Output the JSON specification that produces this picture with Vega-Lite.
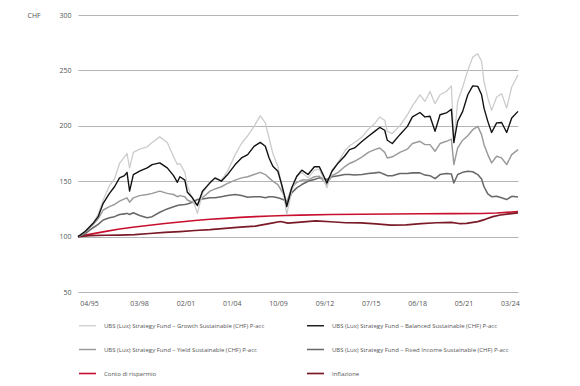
{
  "$schema": "https://vega.github.io/schema/vega-lite/v6.json",
  "width": 440,
  "height": 277,
  "autosize": {"type": "none"},
  "padding": {"left": 78, "top": 15, "right": 62, "bottom": 94},
  "background": "white",
  "config": {
    "view": {"stroke": null},
    "font": "Open Sans",
    "axis": {"labelFont": "Open Sans", "titleFont": "Open Sans", "labelColor": "#555555", "titleColor": "#555555"},
    "legend": {"labelFont": "Open Sans"}
  },
  "datasets": {
    "names": [
      {"k": "G", "series": "UBS (Lux) Strategy Fund – Growth Sustainable (CHF) P-acc"},
      {"k": "B", "series": "UBS (Lux) Strategy Fund – Balanced Sustainable (CHF) P-acc"},
      {"k": "Y", "series": "UBS (Lux) Strategy Fund – Yield Sustainable (CHF) P-acc"},
      {"k": "F", "series": "UBS (Lux) Strategy Fund – Fixed Income Sustainable (CHF) P-acc"},
      {"k": "R", "series": "Conto di risparmio"},
      {"k": "I", "series": "Inflazione"}
    ]
  },
  "data": {
    "values": [
      {"k":"R","date":"1995-04-01","value":100},{"k":"R","date":"1996-01-01","value":102},{"k":"R","date":"1997-01-01","value":104.5},{"k":"R","date":"1998-01-01","value":106.8},{"k":"R","date":"1999-01-01","value":108.6},{"k":"R","date":"2000-01-01","value":110.3},{"k":"R","date":"2001-01-01","value":111.8},{"k":"R","date":"2002-01-01","value":113.2},{"k":"R","date":"2003-01-01","value":114.5},{"k":"R","date":"2004-01-01","value":115.6},{"k":"R","date":"2005-01-01","value":116.5},{"k":"R","date":"2006-01-01","value":117.3},{"k":"R","date":"2007-01-01","value":118},{"k":"R","date":"2008-01-01","value":118.6},{"k":"R","date":"2009-01-01","value":119.1},{"k":"R","date":"2010-01-01","value":119.4},{"k":"R","date":"2012-01-01","value":119.9},{"k":"R","date":"2014-01-01","value":120.2},{"k":"R","date":"2016-01-01","value":120.4},{"k":"R","date":"2018-01-01","value":120.6},{"k":"R","date":"2020-01-01","value":120.7},{"k":"R","date":"2022-01-01","value":120.8},{"k":"R","date":"2023-01-01","value":121.3},{"k":"R","date":"2024-06-01","value":122.5},

      {"k":"I","date":"1995-04-01","value":100},{"k":"I","date":"1996-01-01","value":100.8},{"k":"I","date":"1997-01-01","value":101.2},{"k":"I","date":"1998-01-01","value":101.4},{"k":"I","date":"1999-01-01","value":101.8},{"k":"I","date":"2000-01-01","value":102.8},{"k":"I","date":"2001-01-01","value":103.8},{"k":"I","date":"2002-01-01","value":104.5},{"k":"I","date":"2003-01-01","value":105.5},{"k":"I","date":"2004-01-01","value":106.3},{"k":"I","date":"2005-01-01","value":107.5},{"k":"I","date":"2006-01-01","value":108.6},{"k":"I","date":"2007-01-01","value":109.5},{"k":"I","date":"2008-01-01","value":112},{"k":"I","date":"2008-09-01","value":113.6},{"k":"I","date":"2009-03-01","value":112.2},{"k":"I","date":"2010-01-01","value":113},{"k":"I","date":"2011-01-01","value":114.2},{"k":"I","date":"2012-01-01","value":113.4},{"k":"I","date":"2013-01-01","value":112.5},{"k":"I","date":"2014-01-01","value":112.3},{"k":"I","date":"2015-01-01","value":111.5},{"k":"I","date":"2016-01-01","value":110.3},{"k":"I","date":"2017-01-01","value":110.6},{"k":"I","date":"2018-01-01","value":111.7},{"k":"I","date":"2019-01-01","value":112.5},{"k":"I","date":"2020-01-01","value":112.8},{"k":"I","date":"2020-07-01","value":111.8},{"k":"I","date":"2021-01-01","value":112},{"k":"I","date":"2021-10-01","value":113.5},{"k":"I","date":"2022-04-01","value":115.6},{"k":"I","date":"2022-10-01","value":118},{"k":"I","date":"2023-04-01","value":119.5},{"k":"I","date":"2023-11-01","value":120.5},{"k":"I","date":"2024-06-01","value":121.4},

      {"k":"F","date":"1995-04-01","value":100},{"k":"F","date":"1995-09-01","value":102},{"k":"F","date":"1996-04-01","value":108},{"k":"F","date":"1996-08-01","value":111},{"k":"F","date":"1996-12-01","value":115},{"k":"F","date":"1997-05-01","value":117},{"k":"F","date":"1997-09-01","value":118},{"k":"F","date":"1998-01-01","value":120},{"k":"F","date":"1998-05-01","value":120.5},{"k":"F","date":"1998-07-01","value":121},{"k":"F","date":"1998-09-01","value":120},{"k":"F","date":"1998-12-01","value":121.5},{"k":"F","date":"1999-05-01","value":119},{"k":"F","date":"1999-11-01","value":117},{"k":"F","date":"2000-03-01","value":118},{"k":"F","date":"2000-09-01","value":122},{"k":"F","date":"2001-03-01","value":125},{"k":"F","date":"2001-08-01","value":127},{"k":"F","date":"2001-11-01","value":128},{"k":"F","date":"2002-01-01","value":128.5},{"k":"F","date":"2002-05-01","value":129},{"k":"F","date":"2002-07-01","value":129.5},{"k":"F","date":"2002-11-01","value":131},{"k":"F","date":"2003-03-01","value":133.5},{"k":"F","date":"2003-07-01","value":134},{"k":"F","date":"2004-01-01","value":135},{"k":"F","date":"2004-05-01","value":135},{"k":"F","date":"2004-10-01","value":136},{"k":"F","date":"2005-03-01","value":137},{"k":"F","date":"2005-09-01","value":138},{"k":"F","date":"2006-02-01","value":137},{"k":"F","date":"2006-07-01","value":135.5},{"k":"F","date":"2006-12-01","value":136},{"k":"F","date":"2007-05-01","value":136},{"k":"F","date":"2007-09-01","value":135},{"k":"F","date":"2007-12-01","value":136},{"k":"F","date":"2008-03-01","value":136},{"k":"F","date":"2008-07-01","value":135},{"k":"F","date":"2008-10-01","value":134},{"k":"F","date":"2008-12-01","value":133},{"k":"F","date":"2009-02-01","value":129.5},{"k":"F","date":"2009-06-01","value":139.5},{"k":"F","date":"2009-10-01","value":144},{"k":"F","date":"2010-02-01","value":147},{"k":"F","date":"2010-07-01","value":150},{"k":"F","date":"2010-12-01","value":151.5},{"k":"F","date":"2011-04-01","value":153},{"k":"F","date":"2011-10-01","value":151.5},{"k":"F","date":"2012-02-01","value":154},{"k":"F","date":"2012-07-01","value":155},{"k":"F","date":"2012-12-01","value":156},{"k":"F","date":"2013-04-01","value":156},{"k":"F","date":"2013-08-01","value":155.5},{"k":"F","date":"2014-02-01","value":156},{"k":"F","date":"2014-07-01","value":157},{"k":"F","date":"2014-12-01","value":157.5},{"k":"F","date":"2015-04-01","value":158},{"k":"F","date":"2015-08-01","value":156},{"k":"F","date":"2015-10-01","value":155},{"k":"F","date":"2016-02-01","value":155},{"k":"F","date":"2016-08-01","value":157},{"k":"F","date":"2017-02-01","value":157},{"k":"F","date":"2017-06-01","value":157.5},{"k":"F","date":"2017-12-01","value":157.5},{"k":"F","date":"2018-04-01","value":155.5},{"k":"F","date":"2018-08-01","value":155},{"k":"F","date":"2018-12-01","value":152.3},{"k":"F","date":"2019-04-01","value":156},{"k":"F","date":"2019-09-01","value":157},{"k":"F","date":"2020-01-01","value":156.5},{"k":"F","date":"2020-03-01","value":148.4},{"k":"F","date":"2020-06-01","value":156},{"k":"F","date":"2020-10-01","value":158},{"k":"F","date":"2021-02-01","value":159},{"k":"F","date":"2021-06-01","value":158.5},{"k":"F","date":"2021-10-01","value":156},{"k":"F","date":"2022-01-01","value":152},{"k":"F","date":"2022-03-01","value":145},{"k":"F","date":"2022-06-01","value":138.5},{"k":"F","date":"2022-09-01","value":136},{"k":"F","date":"2023-01-01","value":136.4},{"k":"F","date":"2023-05-01","value":135},{"k":"F","date":"2023-09-01","value":133.4},{"k":"F","date":"2024-01-01","value":136.4},{"k":"F","date":"2024-06-01","value":135.7},

      {"k":"Y","date":"1995-04-01","value":100},{"k":"Y","date":"1995-09-01","value":103},{"k":"Y","date":"1996-04-01","value":111},{"k":"Y","date":"1996-08-01","value":116},{"k":"Y","date":"1996-12-01","value":124},{"k":"Y","date":"1997-05-01","value":127},{"k":"Y","date":"1997-09-01","value":129},{"k":"Y","date":"1998-01-01","value":132},{"k":"Y","date":"1998-05-01","value":134},{"k":"Y","date":"1998-07-01","value":135},{"k":"Y","date":"1998-09-01","value":131},{"k":"Y","date":"1998-12-01","value":135},{"k":"Y","date":"1999-05-01","value":137},{"k":"Y","date":"1999-11-01","value":138},{"k":"Y","date":"2000-03-01","value":139},{"k":"Y","date":"2000-09-01","value":141},{"k":"Y","date":"2001-03-01","value":139},{"k":"Y","date":"2001-08-01","value":138},{"k":"Y","date":"2001-11-01","value":136},{"k":"Y","date":"2002-01-01","value":137},{"k":"Y","date":"2002-05-01","value":136},{"k":"Y","date":"2002-07-01","value":133},{"k":"Y","date":"2002-11-01","value":131},{"k":"Y","date":"2003-03-01","value":129},{"k":"Y","date":"2003-07-01","value":135},{"k":"Y","date":"2004-01-01","value":141},{"k":"Y","date":"2004-05-01","value":143},{"k":"Y","date":"2004-10-01","value":145},{"k":"Y","date":"2005-03-01","value":148},{"k":"Y","date":"2005-09-01","value":151},{"k":"Y","date":"2006-02-01","value":153},{"k":"Y","date":"2006-07-01","value":154},{"k":"Y","date":"2006-12-01","value":156},{"k":"Y","date":"2007-05-01","value":158},{"k":"Y","date":"2007-09-01","value":156},{"k":"Y","date":"2007-12-01","value":153},{"k":"Y","date":"2008-03-01","value":150},{"k":"Y","date":"2008-07-01","value":147},{"k":"Y","date":"2008-10-01","value":141},{"k":"Y","date":"2008-12-01","value":137},{"k":"Y","date":"2009-02-01","value":131},{"k":"Y","date":"2009-06-01","value":144},{"k":"Y","date":"2009-10-01","value":149},{"k":"Y","date":"2010-02-01","value":151},{"k":"Y","date":"2010-07-01","value":151},{"k":"Y","date":"2010-12-01","value":154},{"k":"Y","date":"2011-04-01","value":154.5},{"k":"Y","date":"2011-10-01","value":147},{"k":"Y","date":"2012-02-01","value":155},{"k":"Y","date":"2012-07-01","value":158},{"k":"Y","date":"2012-12-01","value":163},{"k":"Y","date":"2013-04-01","value":166},{"k":"Y","date":"2013-08-01","value":168},{"k":"Y","date":"2014-02-01","value":172},{"k":"Y","date":"2014-07-01","value":176},{"k":"Y","date":"2014-12-01","value":178.5},{"k":"Y","date":"2015-04-01","value":180},{"k":"Y","date":"2015-08-01","value":176},{"k":"Y","date":"2015-10-01","value":171},{"k":"Y","date":"2016-02-01","value":172},{"k":"Y","date":"2016-08-01","value":176},{"k":"Y","date":"2017-02-01","value":179},{"k":"Y","date":"2017-06-01","value":184},{"k":"Y","date":"2017-12-01","value":186},{"k":"Y","date":"2018-04-01","value":183},{"k":"Y","date":"2018-08-01","value":183},{"k":"Y","date":"2018-12-01","value":177},{"k":"Y","date":"2019-04-01","value":184},{"k":"Y","date":"2019-09-01","value":186},{"k":"Y","date":"2020-01-01","value":188},{"k":"Y","date":"2020-03-01","value":165},{"k":"Y","date":"2020-06-01","value":180},{"k":"Y","date":"2020-10-01","value":187},{"k":"Y","date":"2021-02-01","value":191},{"k":"Y","date":"2021-06-01","value":196.5},{"k":"Y","date":"2021-10-01","value":199.5},{"k":"Y","date":"2022-01-01","value":192},{"k":"Y","date":"2022-03-01","value":183},{"k":"Y","date":"2022-06-01","value":174},{"k":"Y","date":"2022-09-01","value":166.5},{"k":"Y","date":"2023-01-01","value":172.5},{"k":"Y","date":"2023-05-01","value":171},{"k":"Y","date":"2023-09-01","value":165},{"k":"Y","date":"2024-01-01","value":174},{"k":"Y","date":"2024-06-01","value":178.5},

      {"k":"G","date":"1995-04-01","value":100},{"k":"G","date":"1995-09-01","value":104},{"k":"G","date":"1996-04-01","value":112},{"k":"G","date":"1996-08-01","value":120},{"k":"G","date":"1996-12-01","value":133},{"k":"G","date":"1997-05-01","value":146},{"k":"G","date":"1997-09-01","value":152},{"k":"G","date":"1998-01-01","value":166},{"k":"G","date":"1998-05-01","value":172},{"k":"G","date":"1998-07-01","value":175},{"k":"G","date":"1998-09-01","value":162},{"k":"G","date":"1998-12-01","value":176},{"k":"G","date":"1999-05-01","value":179},{"k":"G","date":"1999-11-01","value":181},{"k":"G","date":"2000-03-01","value":185},{"k":"G","date":"2000-09-01","value":190},{"k":"G","date":"2001-03-01","value":185},{"k":"G","date":"2001-08-01","value":172},{"k":"G","date":"2001-11-01","value":165},{"k":"G","date":"2002-01-01","value":166},{"k":"G","date":"2002-05-01","value":158},{"k":"G","date":"2002-07-01","value":146},{"k":"G","date":"2002-11-01","value":134},{"k":"G","date":"2003-03-01","value":121},{"k":"G","date":"2003-07-01","value":139},{"k":"G","date":"2004-01-01","value":150},{"k":"G","date":"2004-05-01","value":152},{"k":"G","date":"2004-10-01","value":151},{"k":"G","date":"2005-03-01","value":159},{"k":"G","date":"2005-09-01","value":174},{"k":"G","date":"2006-02-01","value":184},{"k":"G","date":"2006-07-01","value":191},{"k":"G","date":"2006-12-01","value":199.5},{"k":"G","date":"2007-05-01","value":209},{"k":"G","date":"2007-09-01","value":202.6},{"k":"G","date":"2007-12-01","value":189},{"k":"G","date":"2008-03-01","value":175},{"k":"G","date":"2008-07-01","value":163.5},{"k":"G","date":"2008-10-01","value":145},{"k":"G","date":"2008-12-01","value":135},{"k":"G","date":"2009-02-01","value":120},{"k":"G","date":"2009-06-01","value":141},{"k":"G","date":"2009-10-01","value":154},{"k":"G","date":"2010-02-01","value":158},{"k":"G","date":"2010-07-01","value":153},{"k":"G","date":"2010-12-01","value":160},{"k":"G","date":"2011-04-01","value":161},{"k":"G","date":"2011-10-01","value":144},{"k":"G","date":"2012-02-01","value":160},{"k":"G","date":"2012-07-01","value":167},{"k":"G","date":"2012-12-01","value":177},{"k":"G","date":"2013-04-01","value":182},{"k":"G","date":"2013-08-01","value":185},{"k":"G","date":"2014-02-01","value":190},{"k":"G","date":"2014-07-01","value":197},{"k":"G","date":"2014-12-01","value":202},{"k":"G","date":"2015-04-01","value":208},{"k":"G","date":"2015-08-01","value":205},{"k":"G","date":"2015-10-01","value":195},{"k":"G","date":"2016-02-01","value":193},{"k":"G","date":"2016-08-01","value":200},{"k":"G","date":"2017-02-01","value":210},{"k":"G","date":"2017-06-01","value":218},{"k":"G","date":"2017-12-01","value":228},{"k":"G","date":"2018-04-01","value":222},{"k":"G","date":"2018-08-01","value":231},{"k":"G","date":"2018-12-01","value":220},{"k":"G","date":"2019-04-01","value":228},{"k":"G","date":"2019-09-01","value":231},{"k":"G","date":"2020-01-01","value":236},{"k":"G","date":"2020-03-01","value":184},{"k":"G","date":"2020-06-01","value":222},{"k":"G","date":"2020-10-01","value":235},{"k":"G","date":"2021-02-01","value":250},{"k":"G","date":"2021-06-01","value":262},{"k":"G","date":"2021-10-01","value":265},{"k":"G","date":"2022-01-01","value":258},{"k":"G","date":"2022-03-01","value":240},{"k":"G","date":"2022-06-01","value":225},{"k":"G","date":"2022-09-01","value":214},{"k":"G","date":"2023-01-01","value":226},{"k":"G","date":"2023-05-01","value":229},{"k":"G","date":"2023-09-01","value":216},{"k":"G","date":"2024-01-01","value":235},{"k":"G","date":"2024-06-01","value":246},

      {"k":"B","date":"1995-04-01","value":100},{"k":"B","date":"1995-09-01","value":104},{"k":"B","date":"1996-04-01","value":112},{"k":"B","date":"1996-08-01","value":118},{"k":"B","date":"1996-12-01","value":130},{"k":"B","date":"1997-05-01","value":139},{"k":"B","date":"1997-09-01","value":145},{"k":"B","date":"1998-01-01","value":153},{"k":"B","date":"1998-05-01","value":155},{"k":"B","date":"1998-07-01","value":158},{"k":"B","date":"1998-09-01","value":141},{"k":"B","date":"1998-12-01","value":156},{"k":"B","date":"1999-05-01","value":159},{"k":"B","date":"1999-11-01","value":162},{"k":"B","date":"2000-03-01","value":165},{"k":"B","date":"2000-09-01","value":166.5},{"k":"B","date":"2001-03-01","value":162},{"k":"B","date":"2001-08-01","value":155},{"k":"B","date":"2001-11-01","value":149},{"k":"B","date":"2002-01-01","value":154},{"k":"B","date":"2002-05-01","value":151},{"k":"B","date":"2002-07-01","value":140},{"k":"B","date":"2002-11-01","value":135},{"k":"B","date":"2003-03-01","value":128},{"k":"B","date":"2003-07-01","value":141},{"k":"B","date":"2004-01-01","value":148.5},{"k":"B","date":"2004-05-01","value":153},{"k":"B","date":"2004-10-01","value":150},{"k":"B","date":"2005-03-01","value":156},{"k":"B","date":"2005-09-01","value":165},{"k":"B","date":"2006-02-01","value":171},{"k":"B","date":"2006-07-01","value":174},{"k":"B","date":"2006-12-01","value":181.5},{"k":"B","date":"2007-05-01","value":185},{"k":"B","date":"2007-09-01","value":181.5},{"k":"B","date":"2007-12-01","value":171},{"k":"B","date":"2008-03-01","value":163.5},{"k":"B","date":"2008-07-01","value":159},{"k":"B","date":"2008-10-01","value":147},{"k":"B","date":"2008-12-01","value":138},{"k":"B","date":"2009-02-01","value":127},{"k":"B","date":"2009-06-01","value":144},{"k":"B","date":"2009-10-01","value":154.5},{"k":"B","date":"2010-02-01","value":160},{"k":"B","date":"2010-07-01","value":156},{"k":"B","date":"2010-12-01","value":163},{"k":"B","date":"2011-04-01","value":163},{"k":"B","date":"2011-10-01","value":148.5},{"k":"B","date":"2012-02-01","value":159},{"k":"B","date":"2012-07-01","value":166.5},{"k":"B","date":"2012-12-01","value":172.5},{"k":"B","date":"2013-04-01","value":178.5},{"k":"B","date":"2013-08-01","value":180},{"k":"B","date":"2014-02-01","value":186},{"k":"B","date":"2014-07-01","value":190.5},{"k":"B","date":"2014-12-01","value":195},{"k":"B","date":"2015-04-01","value":198.5},{"k":"B","date":"2015-08-01","value":196},{"k":"B","date":"2015-10-01","value":187},{"k":"B","date":"2016-02-01","value":184},{"k":"B","date":"2016-08-01","value":192},{"k":"B","date":"2017-02-01","value":199.5},{"k":"B","date":"2017-06-01","value":208},{"k":"B","date":"2017-12-01","value":212},{"k":"B","date":"2018-04-01","value":208},{"k":"B","date":"2018-08-01","value":208.6},{"k":"B","date":"2018-12-01","value":195},{"k":"B","date":"2019-04-01","value":210},{"k":"B","date":"2019-09-01","value":211.6},{"k":"B","date":"2020-01-01","value":215},{"k":"B","date":"2020-03-01","value":185},{"k":"B","date":"2020-06-01","value":204},{"k":"B","date":"2020-10-01","value":213},{"k":"B","date":"2021-02-01","value":228},{"k":"B","date":"2021-06-01","value":236},{"k":"B","date":"2021-10-01","value":235.6},{"k":"B","date":"2022-01-01","value":228},{"k":"B","date":"2022-03-01","value":216},{"k":"B","date":"2022-06-01","value":204},{"k":"B","date":"2022-09-01","value":194},{"k":"B","date":"2023-01-01","value":202.6},{"k":"B","date":"2023-05-01","value":203},{"k":"B","date":"2023-09-01","value":194},{"k":"B","date":"2024-01-01","value":207},{"k":"B","date":"2024-06-01","value":213}
    ]
  },
  "transform": [
    {"lookup": "k", "from": {"data": {"name": "names"}, "key": "k", "fields": ["series"]}}
  ],
  "mark": {"type": "line", "interpolate": "linear", "strokeJoin": "round"},
  "encoding": {
    "x": {
      "field": "date", "type": "temporal",
      "scale": {"domain": ["1995-04-01", "2024-06-01"]},
      "axis": {
        "title": null, "grid": false, "domain": false, "ticks": false,
        "values": [
          {"year": 1995, "month": 12, "date": 24},
          {"year": 1999, "month": 4, "date": 16},
          {"year": 2002, "month": 5, "date": 15},
          {"year": 2005, "month": 6, "date": 10},
          {"year": 2008, "month": 7, "date": 5},
          {"year": 2011, "month": 8, "date": 2},
          {"year": 2014, "month": 8, "date": 29},
          {"year": 2017, "month": 9, "date": 24},
          {"year": 2020, "month": 10, "date": 21},
          {"year": 2023, "month": 11, "date": 17}
        ],
        "labelExpr": "year(datum.value) == 1995 ? '04/95' : year(datum.value) == 1999 ? '03/98' : year(datum.value) == 2002 ? '02/01' : year(datum.value) == 2005 ? '01/04' : year(datum.value) == 2008 ? '10/09' : year(datum.value) == 2011 ? '09/12' : year(datum.value) == 2014 ? '07/15' : year(datum.value) == 2017 ? '06/18' : year(datum.value) == 2020 ? '05/21' : '03/24'",
        "labelAlign": "center", "labelFontSize": 7, "labelPadding": 7, "labelOverlap": false, "labelFlush": false
      }
    },
    "y": {
      "field": "value", "type": "quantitative",
      "scale": {"domain": [50, 300], "nice": false, "zero": false},
      "axis": {
        "title": "CHF", "titleAngle": 0, "titleX": -51, "titleY": 0, "titleAlign": "left", "titleBaseline": "middle",
        "titleFontWeight": "normal", "titleFontSize": 7,
        "values": [50, 100, 150, 200, 250, 300],
        "grid": true, "gridColor": "#b4b4b4", "gridWidth": 1,
        "domain": false, "ticks": false, "labelFontSize": 7, "labelPadding": 7
      }
    },
    "color": {
      "field": "series", "type": "nominal",
      "scale": {
        "domain": [
          "UBS (Lux) Strategy Fund – Growth Sustainable (CHF) P-acc",
          "UBS (Lux) Strategy Fund – Balanced Sustainable (CHF) P-acc",
          "UBS (Lux) Strategy Fund – Yield Sustainable (CHF) P-acc",
          "UBS (Lux) Strategy Fund – Fixed Income Sustainable (CHF) P-acc",
          "Conto di risparmio",
          "Inflazione"
        ],
        "range": ["#cccccc", "#111111", "#9a9a9a", "#686868", "#c8102e", "#7a1a26"]
      },
      "legend": {
        "title": null, "orient": "none", "direction": "horizontal", "legendX": 0, "legendY": 301, "columns": 2,
        "columnPadding": 38, "rowPadding": 11, "symbolType": "stroke", "symbolSize": 289,
        "labelFontSize": 6, "labelColor": "#555555", "labelOffset": 7, "labelLimit": 400
      }
    },
    "strokeWidth": {
      "field": "series", "type": "nominal",
      "scale": {
        "domain": [
          "UBS (Lux) Strategy Fund – Growth Sustainable (CHF) P-acc",
          "UBS (Lux) Strategy Fund – Balanced Sustainable (CHF) P-acc",
          "UBS (Lux) Strategy Fund – Yield Sustainable (CHF) P-acc",
          "UBS (Lux) Strategy Fund – Fixed Income Sustainable (CHF) P-acc",
          "Conto di risparmio",
          "Inflazione"
        ],
        "range": [1.3, 1.7, 1.2, 1.2, 1.3, 1.3]
      },
      "legend": {
        "title": null, "orient": "none", "direction": "horizontal", "legendX": 0, "legendY": 301, "columns": 2,
        "columnPadding": 38, "rowPadding": 11, "symbolType": "stroke", "symbolSize": 289,
        "labelFontSize": 6, "labelColor": "#555555", "labelOffset": 7, "labelLimit": 400
      }
    }
  }
}
